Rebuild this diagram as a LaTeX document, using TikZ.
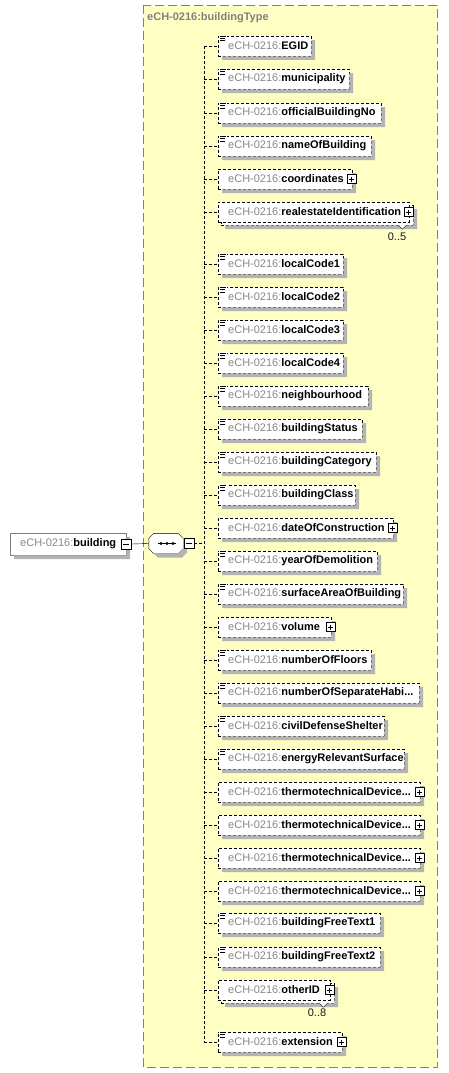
\documentclass[tikz,border=0pt]{standalone}
\usepackage{fontspec}
\setmainfont{Liberation Sans}
\usepackage{xcolor}
\usetikzlibrary{calc}
\definecolor{TypeYellow}{RGB}{255,255,196}
\definecolor{TypeBorder}{RGB}{128,128,128}
\definecolor{PrefixGray}{RGB}{136,136,136}
\definecolor{ShadowGray}{RGB}{180,180,180}
\definecolor{OccurDark}{RGB}{20,20,50}
\newcommand{\diagfont}{\fontsize{11}{13}\selectfont}
\newcommand{\trunc}{...}

\tikzset{
  elbox/.style={draw=black, fill=white, dash pattern=on 3pt off 2pt, minimum height=20pt,
    inner sep=0pt, anchor=west},
  eltext/.style={anchor=west, inner sep=0pt, font=\diagfont},
  shadowbox/.style={fill=ShadowGray},
  plusbox/.style={draw=black, solid, fill=white, minimum size=9pt, inner sep=0pt,
    path picture={\draw ([xshift=2pt]path picture bounding box.west) -- ([xshift=-2pt]path picture bounding box.east)
      ([yshift=-2pt]path picture bounding box.north) -- ([yshift=2pt]path picture bounding box.south);}},
  minusbox/.style={draw=black, solid, fill=white, minimum size=10pt, inner sep=0pt,
    path picture={\draw ([xshift=2pt]path picture bounding box.west) -- ([xshift=-2pt]path picture bounding box.east);}},
  conn/.style={black, dash pattern=on 3pt off 2pt},
  occur/.style={font=\diagfont, color=OccurDark, inner sep=0pt}
}

\begin{document}
\begin{tikzpicture}[x=1pt, y=-1pt]
  \useasboundingbox (0,0) rectangle (448,1073);

  % complex type frame
  \draw[TypeBorder, fill=TypeYellow, dash pattern=on 9pt off 4pt] (143,5) rectangle (437,1067);
  \node[anchor=west, inner sep=0pt, font=\diagfont\bfseries, color=TypeBorder] (ttl) at (147,18) {eCH-0216:buildingType};

  % root element and sequence
  \node[draw=TypeBorder, fill=white, minimum width=116pt, minimum height=22pt, inner sep=0pt, anchor=west,
    font=\diagfont] (bld) at (10,544) {{\color{PrefixGray}eCH-0216:}\textbf{building}};
  \path[shadowbox] (126.3,537) -- (130,537) -- (130,559) -- (14,559) -- (14,555.3) -- (126.3,555.3) -- cycle;
  \node[minusbox] (bldm) at (bld.east) {};
  \node[minimum width=34pt, minimum height=20pt, inner sep=0pt] (seq) at (166,543.5) {};
  \draw[fill=white] ([xshift=5pt]seq.north west) -- ([xshift=-5pt]seq.north east)
    -- ([yshift=-5pt]seq.north east) -- ([yshift=5pt]seq.south east) -- ([xshift=-5pt]seq.south east)
    -- ([xshift=5pt]seq.south west) -- ([yshift=5pt]seq.south west) -- ([yshift=-5pt]seq.north west) -- cycle;
  \path[shadowbox] (182,537.5) -- (187,542.5) -- (187,552.5) -- (182,557.5) -- (158,557.5) -- (153,552.5)
    -- (153.8,553.8) -- (178,553.8) -- (183.3,548.5) -- (183.3,538.5) -- (181,536.3) -- cycle;
  \draw ([xshift=-8pt]seq.center) -- ([xshift=10pt]seq.center);
  \foreach \dx in {-5,1,7} {
    \fill ([xshift=\dx pt]seq.center) circle (1.7pt);
  }
  \node[minusbox] (seqm) at (189,543.5) {};
  \coordinate (trunk) at (204,543.5);
  \draw (bldm.east) -- (seq.west);
  \draw[conn] (seqm.east) -- (trunk);

  % stacked boxes for repeated elements
  \node[elbox, minimum width=192pt] (e6b) at (221,215) {};
  \path[shadowbox] (413.3,209) -- (417,209) -- (417,229) -- (225,229) -- (225,225.3) -- (413.3,225.3) -- cycle;
  \draw[fill=white] ([xshift=-15pt]e6b.south east) -- ++(4,4) -- ++(4,-4);
  \node[elbox, minimum width=113pt] (e29b) at (221,993) {};
  \path[shadowbox] (334.3,987) -- (338,987) -- (338,1007) -- (225,1007) -- (225,1003.3) -- (334.3,1003.3) -- cycle;
  \draw[fill=white] ([xshift=-15pt]e29b.south east) -- ++(4,4) -- ++(4,-4);

  % children
  \foreach \i/\y/\nm/\r/\ic/\pl/\sh in {
    1/46/EGID/311/1/0/1, 2/79/municipality/349/1/0/1, 3/113/officialBuildingNo/381/1/0/1,
    4/146/nameOfBuilding/371/1/0/1, 5/179/coordinates/352/0/1/1,
    6/212/realestateIdentification/409/0/1/0,
    7/264/localCode1/343/1/0/1, 8/297/localCode2/343/1/0/1, 9/330/localCode3/343/1/0/1,
    10/363/localCode4/343/1/0/1, 11/396/neighbourhood/368/1/0/1, 12/429/buildingStatus/362/1/0/1,
    13/462/buildingCategory/376/1/0/1, 14/495/buildingClass/355/1/0/1,
    15/528/dateOfConstruction/393/0/1/1, 16/561/yearOfDemolition/377/1/0/1,
    17/594/surfaceAreaOfBuilding/403/1/0/1, 18/627/volume/331/0/1/1,
    19/660/numberOfFloors/371/1/0/1, 20/693/numberOfSeparateHabi\trunc/419/1/0/1,
    21/726/civilDefenseShelter/384/1/0/1, 22/759/energyRelevantSurface/404/1/0/1,
    23/792/thermotechnicalDevice\trunc/420/0/1/1, 24/825/thermotechnicalDevice\trunc/420/0/1/1,
    25/858/thermotechnicalDevice\trunc/420/0/1/1, 26/891/thermotechnicalDevice\trunc/420/0/1/1,
    27/923/buildingFreeText1/380/1/0/1, 28/957/buildingFreeText2/380/1/0/1,
    29/990/otherID/330/0/1/0, 30/1042/extension/342/1/1/1} {
    \pgfmathsetmacro\w{\r-218}
    \node[elbox, minimum width=\w pt] (e\i) at (218,\y) {};
    \ifnum\sh=1
      \path[shadowbox] (\r+0.3,\y-6) -- (\r+4,\y-6) -- (\r+4,\y+14) -- (222,\y+14)
        -- (222,\y+10.3) -- (\r+0.3,\y+10.3) -- cycle;
    \fi
    \node[eltext] (t\i) at ([xshift=10pt]e\i.west) {{\color{PrefixGray}eCH-0216:}\textbf{\nm}};
    \ifnum\pl=1
      \node[plusbox] (p\i) at ([xshift=-1pt]e\i.east) {};
    \fi
    \ifnum\ic=1
      \fill[white] ($(e\i.north west)+(1,-1)$) rectangle ++(8,7);
      \draw[line width=0.8pt] ($(e\i.north west)+(2,0.5)$) -- ++(6,0)
        ($(e\i.north west)+(2,2.8)$) -- ++(4.5,0)
        ($(e\i.north west)+(2,5.1)$) -- ++(4.5,0);
    \fi
    \draw[conn] (trunk |- e\i.west) -- (e\i.west);
  }
  \draw[conn] (trunk |- e1.west) -- (trunk |- e30.west);

  % occurrences
  \node[occur] (o6) at (397,237) {0..5};
  \node[occur] (o29) at (317,1013) {0..8};
\end{tikzpicture}
\end{document}
